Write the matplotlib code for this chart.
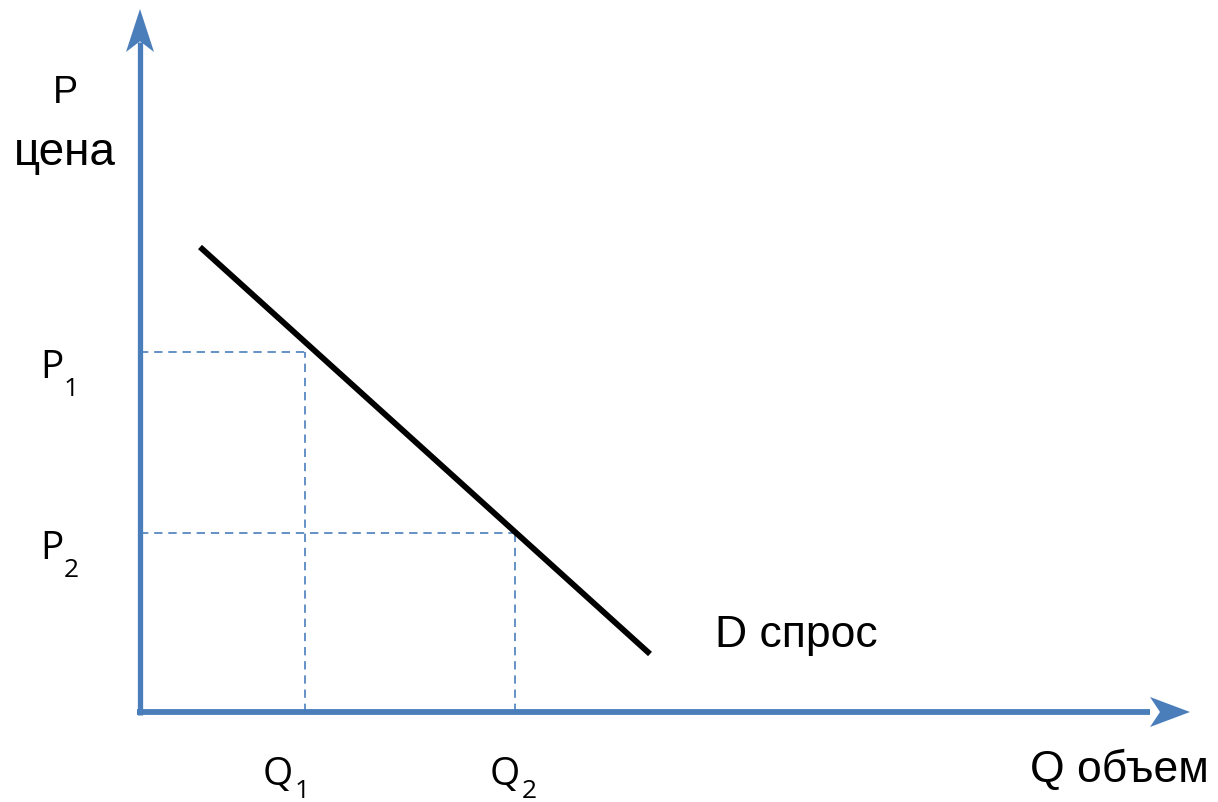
import matplotlib.pyplot as plt

# demand curve endpoints (Q, P), in chart units
demand_q = [0.60, 5.10]
demand_p = [4.65, 0.58]
# marked points
q_points = [1.65, 3.75]
p_points = [3.60, 1.79]
p_labels = ['P', 'P']
q_labels = ['Q', 'Q']
subs = ['1', '2']

blue = '#4a7ebb'
label_font = ['Liberation Sans', 'DejaVu Sans']
tick_font = ['Open Sans', 'DejaVu Sans']

fig = plt.figure(figsize=(12.18, 8.03), dpi=100)
ax = fig.add_axes([0, 0, 1, 1])
ax.set_xlim(-1.40, 10.78)
ax.set_ylim(-0.90, 7.13)
ax.axis('off')

# axes with arrows
ax.plot([0, 0], [-0.03, 6.7], color=blue, lw=3.8, solid_capstyle='butt')
ax.plot([-0.03, 10.1], [0, 0], color=blue, lw=4.2, solid_capstyle='butt')
ax.arrow(0, 6.6, 0, 0.43, width=0.0, head_width=0.28, head_length=0.43,
         length_includes_head=True, overhang=0.25, color=blue, lw=0)
ax.arrow(10.0, 0, 0.5, 0, width=0.0, head_width=0.30, head_length=0.40,
         length_includes_head=True, overhang=0.25, color=blue, lw=0)

# guide lines
for q, p in zip(q_points, p_points):
    ax.plot([0, q], [p, p], color=blue, lw=1.2, ls=(0, (5, 3.5)))
    ax.plot([q, q], [0, p], color=blue, lw=1.2, ls=(0, (5, 3.5)))

# demand line
ax.plot(demand_q, demand_p, color='black', lw=4.2, solid_capstyle='butt')

# labels
ax.text(-0.75, 6.20, 'P', fontsize=27, family=label_font, ha='center', va='center')
ax.text(-0.75, 5.60, 'цена', fontsize=33, family=label_font, ha='center', va='center')
ax.text(5.75, 0.66, 'D спрос', fontsize=32, family=label_font, ha='left', va='baseline')
ax.text(8.90, -0.69, 'Q объем', fontsize=32, family=label_font, ha='left', va='baseline')

for p, lab, s in zip(p_points, p_labels, subs):
    ax.text(-1.00, p - 0.25, lab, fontsize=28, family=tick_font, ha='left', va='baseline')
    ax.text(-0.76, p - 0.43, s, fontsize=19, family=tick_font, ha='left', va='baseline')

for q, lab, s, dx in zip(q_points, q_labels, subs, [-0.42, -0.25]):
    ax.text(q + dx, -0.72, lab, fontsize=28, family=tick_font, ha='left', va='baseline')
    ax.text(q + dx + 0.32, -0.85, s, fontsize=19, family=tick_font, ha='left', va='baseline')

fig.savefig('out.png', dpi=100)
